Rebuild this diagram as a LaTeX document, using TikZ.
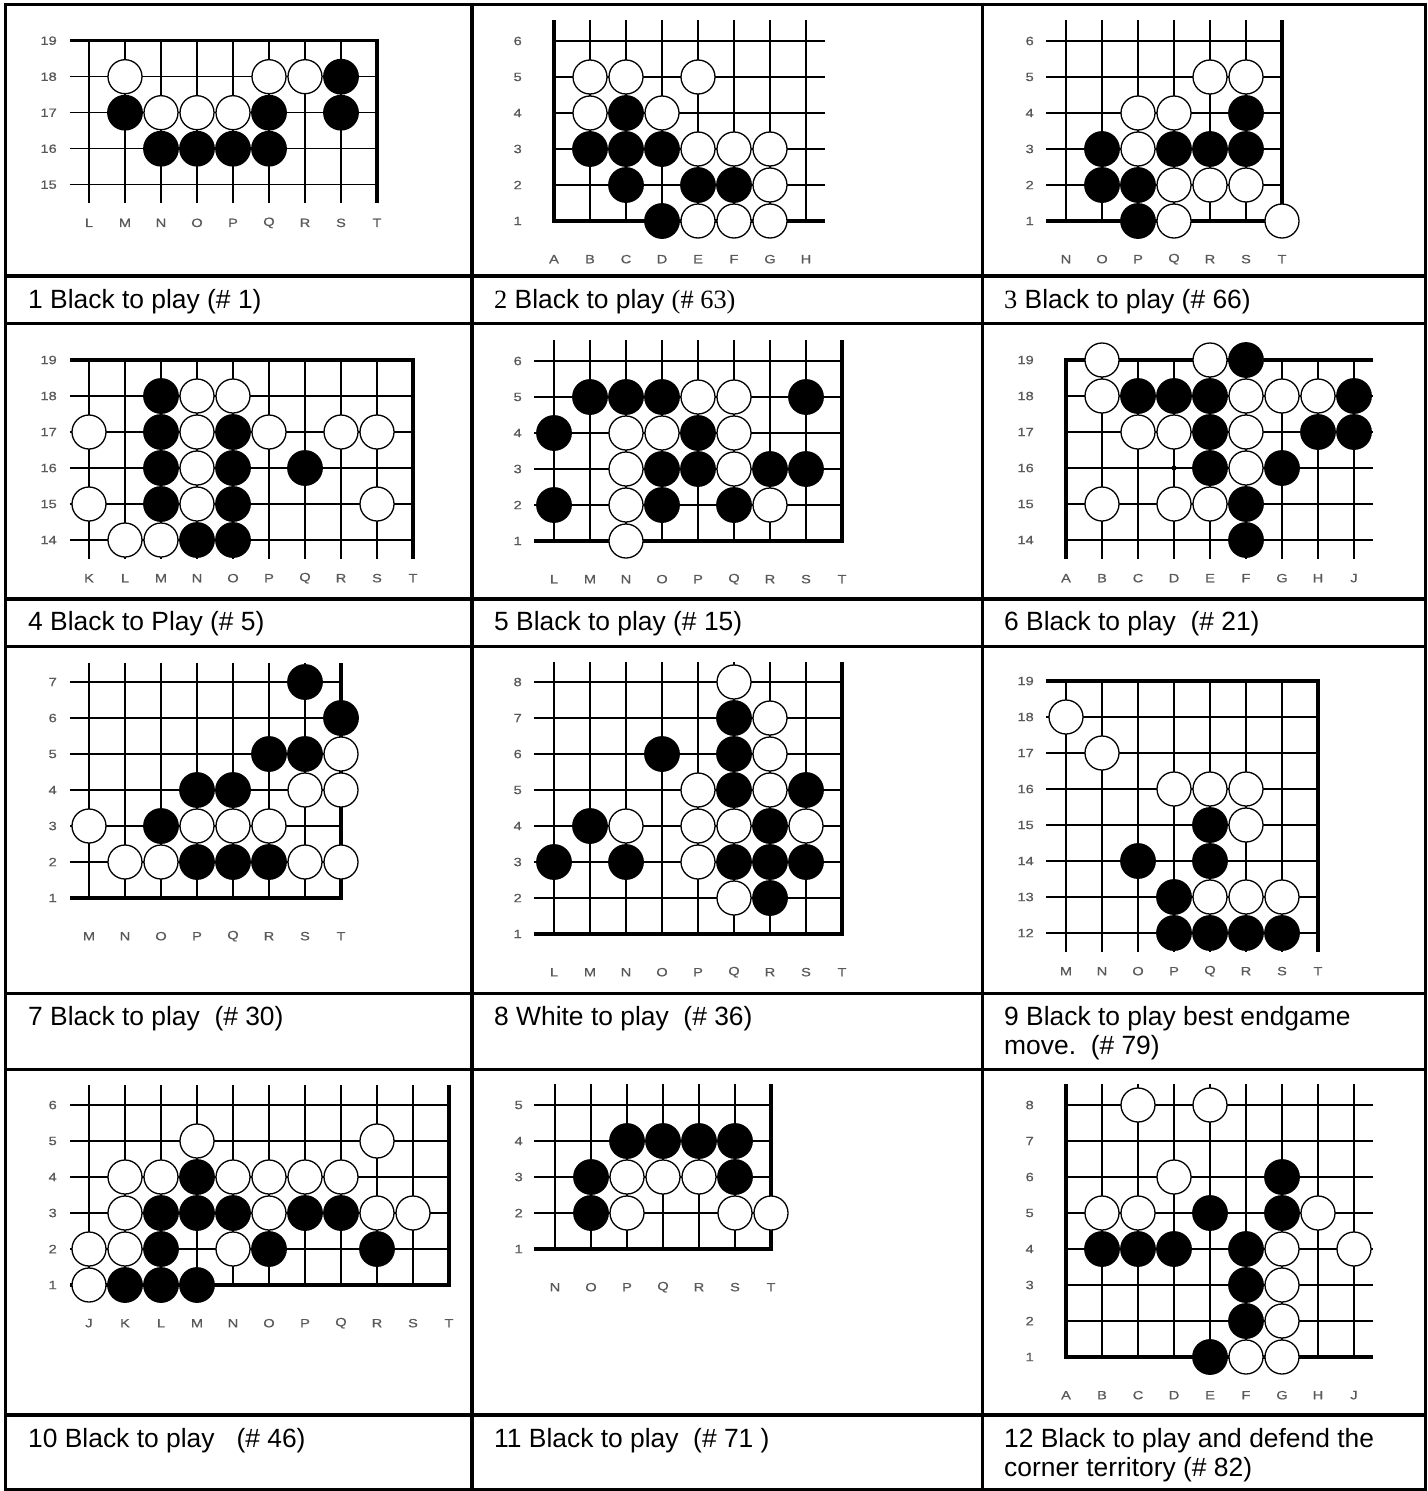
\documentclass[tikz,border=0pt]{standalone}
\usepackage{fontspec}
\newfontfamily\capfont{Liberation Sans}
\newfontfamily\capserif{Liberation Serif}
\newfontfamily\labfont[FakeStretch=1.22, FakeBold=0.8]{Liberation Sans}

\tikzset{
  gridline/.style={line width=1.3pt, black},
  edgeline/.style={line width=3.2pt, black},
  tableline/.style={line width=3.2pt, black},
  wstone/.style={circle, draw=black, fill=white, line width=1.3pt, minimum size=34pt, inner sep=0pt},
  bstone/.style={circle, draw=black, fill=black, line width=1.3pt, minimum size=34.5pt, inner sep=0pt},
  rowlabel/.style={anchor=east, inner sep=0pt, text=black!65, font=\labfont\fontsize{12}{13}\selectfont},
  collabel/.style={inner sep=0pt, text=black!65, font=\labfont\fontsize{12}{13}\selectfont},
  caption/.style={anchor=base west, inner sep=0pt, font=\capfont\fontsize{26.4}{30}\selectfont},
  board/.style={x=36pt, y=-36pt},
}

% grid lines: #1 last column, #2 last row, #3/#4 x span, #5/#6 y span
\newcommand{\gridlines}[6]{%
  \foreach \r in {0,...,#2} \draw[gridline] (#3,\r) -- (#4,\r);
  \foreach \c in {0,...,#1} \draw[gridline] (\c,#5) -- (\c,#6);
}

% labels and named points: #1 board, #2 column letters, #3 top row number, #4 last row
\newcommand{\golabels}[4]{%
  \foreach \col [count=\i from 0] in {#2} {
    \node[collabel] at (\i,#4+1.06) {\col};
    \foreach \r in {0,...,#4} {
      \pgfmathtruncatemacro\num{#3-\r}
      \coordinate (#1-\col-\num) at (\i,\r);
    }
  }
  \foreach \r in {0,...,#4} {
    \pgfmathtruncatemacro\num{#3-\r}
    \node[rowlabel] at (-0.89,\r) {\num};
  }
}

\newcommand{\stones}[3]{\foreach \p in {#3} \node[#2] at (#1-\p) {};}

\begin{document}
\begin{tikzpicture}[x=1pt, y=-1pt]
\useasboundingbox (0,0) rectangle (1427,1491);

% table
\draw[tableline] (5.5,4.5) rectangle (1425.5,1489.8);
\foreach \y in {276,323.5,599,646.5,993.5,1069.5,1415}
  \draw[tableline] (5.5,\y) -- (1425.5,\y);
\foreach \x in {472,982.3}
  \draw[tableline] (\x,4.5) -- (\x,1489.8);

% board 1
\begin{scope}[shift={(89,40.7)}, board]
  \gridlines{8}{4}{-0.53}{8}{0}{4.52}
  \draw[edgeline] (-0.53,0) -- (8,0) -- (8,4.52);
  \golabels{b1}{L,M,N,O,P,Q,R,S,T}{19}{4}
\end{scope}
\stones{b1}{wstone}{M-18,Q-18,R-18,N-17,O-17,P-17}
\stones{b1}{bstone}{S-18,S-17,M-17,Q-17,N-16,O-16,P-16,Q-16}

% board 2
\begin{scope}[shift={(554,41)}, board]
  \gridlines{7}{5}{0}{7.53}{-0.57}{5}
  \draw[edgeline] (0,-0.57) -- (0,5) -- (7.53,5);
  \golabels{b2}{A,B,C,D,E,F,G,H}{6}{5}
\end{scope}
\stones{b2}{wstone}{B-5,C-5,E-5,B-4,D-4,E-3,F-3,G-3,G-2,E-1,F-1,G-1}
\stones{b2}{bstone}{C-4,B-3,C-3,D-3,C-2,E-2,F-2,D-1}

% board 3
\begin{scope}[shift={(1066,41)}, board]
  \gridlines{6}{5}{-0.55}{6}{-0.57}{5}
  \draw[edgeline] (6,-0.57) -- (6,5) -- (-0.55,5);
  \golabels{b3}{N,O,P,Q,R,S,T}{6}{5}
\end{scope}
\stones{b3}{wstone}{R-5,S-5,P-4,Q-4,P-3,Q-2,R-2,S-2,Q-1,T-1}
\stones{b3}{bstone}{S-4,O-3,Q-3,R-3,S-3,O-2,P-2,P-1}

% board 4
\begin{scope}[shift={(89,360)}, board]
  \gridlines{9}{5}{-0.53}{9}{0}{5.52}
  \draw[edgeline] (-0.53,0) -- (9,0) -- (9,5.52);
  \golabels{b4}{K,L,M,N,O,P,Q,R,S,T}{19}{5}
  \fill (0,2) circle (2.6pt);
\end{scope}
\stones{b4}{wstone}{N-18,O-18,K-17,N-17,P-17,R-17,S-17,N-16,K-15,N-15,S-15,L-14,M-14}
\stones{b4}{bstone}{M-18,M-17,O-17,M-16,O-16,Q-16,M-15,O-15,N-14,O-14}

% board 5
\begin{scope}[shift={(554,361)}, board]
  \gridlines{8}{5}{-0.55}{8}{-0.57}{5}
  \draw[edgeline] (8,-0.57) -- (8,5) -- (-0.55,5);
  \golabels{b5}{L,M,N,O,P,Q,R,S,T}{6}{5}
\end{scope}
\stones{b5}{wstone}{P-5,Q-5,N-4,O-4,Q-4,N-3,Q-3,N-2,R-2,N-1}
\stones{b5}{bstone}{M-5,N-5,O-5,S-5,L-4,P-4,O-3,P-3,R-3,S-3,L-2,O-2,Q-2}

% board 6
\begin{scope}[shift={(1066,360)}, board]
  \gridlines{8}{5}{0}{8.53}{0}{5.52}
  \draw[edgeline] (8.53,0) -- (0,0) -- (0,5.52);
  \golabels{b6}{A,B,C,D,E,F,G,H,J}{19}{5}
  \fill (3,3) circle (2.6pt);
\end{scope}
\stones{b6}{wstone}{B-19,E-19,B-18,F-18,G-18,H-18,C-17,D-17,F-17,F-16,B-15,D-15,E-15}
\stones{b6}{bstone}{F-19,C-18,D-18,E-18,J-18,E-17,H-17,J-17,E-16,G-16,F-15,F-14}

% board 7
\begin{scope}[shift={(89,682)}, board]
  \gridlines{7}{6}{-0.53}{7}{-0.53}{6}
  \draw[edgeline] (7,-0.53) -- (7,6) -- (-0.53,6);
  \golabels{b7}{M,N,O,P,Q,R,S,T}{7}{6}
\end{scope}
\stones{b7}{wstone}{T-5,S-4,T-4,M-3,P-3,Q-3,R-3,N-2,O-2,S-2,T-2}
\stones{b7}{bstone}{S-7,T-6,R-5,S-5,P-4,Q-4,O-3,P-2,Q-2,R-2}

% board 8
\begin{scope}[shift={(554,682)}, board]
  \gridlines{8}{7}{-0.55}{8}{-0.55}{7}
  \draw[edgeline] (8,-0.55) -- (8,7) -- (-0.55,7);
  \golabels{b8}{L,M,N,O,P,Q,R,S,T}{8}{7}
\end{scope}
\stones{b8}{wstone}{Q-8,R-7,R-6,P-5,R-5,N-4,P-4,Q-4,S-4,P-3,Q-2}
\stones{b8}{bstone}{Q-7,O-6,Q-6,Q-5,S-5,M-4,R-4,L-3,N-3,Q-3,R-3,S-3,R-2}

% board 9
\begin{scope}[shift={(1066,681)}, board]
  \gridlines{7}{7}{-0.55}{7}{0}{7.53}
  \draw[edgeline] (-0.55,0) -- (7,0) -- (7,7.53);
  \golabels{b9}{M,N,O,P,Q,R,S,T}{19}{7}
\end{scope}
\stones{b9}{wstone}{M-18,N-17,P-16,Q-16,R-16,R-15,Q-13,R-13,S-13}
\stones{b9}{bstone}{Q-15,O-14,Q-14,P-13,P-12,Q-12,R-12,S-12}

% board 10
\begin{scope}[shift={(89,1105)}, board]
  \gridlines{10}{5}{-0.53}{10}{-0.55}{5}
  \draw[edgeline] (10,-0.55) -- (10,5) -- (-0.53,5);
  \golabels{b10}{J,K,L,M,N,O,P,Q,R,S,T}{6}{5}
\end{scope}
\stones{b10}{wstone}{M-5,R-5,K-4,L-4,N-4,O-4,P-4,Q-4,K-3,O-3,R-3,S-3,J-2,K-2,N-2,J-1}
\stones{b10}{bstone}{M-4,L-3,M-3,N-3,P-3,Q-3,L-2,O-2,R-2,K-1,L-1,M-1}

% board 11
\begin{scope}[shift={(555,1105)}, board]
  \gridlines{6}{4}{-0.57}{6}{-0.57}{4}
  \draw[edgeline] (6,-0.57) -- (6,4) -- (-0.57,4);
  \golabels{b11}{N,O,P,Q,R,S,T}{5}{4}
\end{scope}
\stones{b11}{wstone}{P-3,Q-3,R-3,P-2,S-2,T-2}
\stones{b11}{bstone}{P-4,Q-4,R-4,S-4,O-3,S-3,O-2}

% board 12
\begin{scope}[shift={(1066,1105)}, board]
  \gridlines{8}{7}{0}{8.53}{-0.57}{7}
  \draw[edgeline] (0,-0.57) -- (0,7) -- (8.53,7);
  \golabels{b12}{A,B,C,D,E,F,G,H,J}{8}{7}
\end{scope}
\stones{b12}{wstone}{C-8,E-8,D-6,B-5,C-5,H-5,G-4,J-4,G-3,G-2,F-1,G-1}
\stones{b12}{bstone}{G-6,E-5,G-5,B-4,C-4,D-4,F-4,F-3,F-2,E-1}

% captions
\node[caption] (cap1) at (28,308) {1 Black to play (\# 1)};
\node[caption] (cap2) at (494,308) {{\capserif 2} Black to play {\capserif (\# 63)}};
\node[caption] (cap3) at (1004,308) {{\capserif 3} Black to play (\# 66)};
\node[caption] (cap4) at (28,630) {4 Black to Play (\# 5)};
\node[caption] (cap5) at (494,630) {5 Black to play (\# 15)};
\node[caption] (cap6) at (1004,630) {6 Black to play\ \ (\# 21)};
\node[caption] (cap7) at (28,1025) {7 Black to play\ \ (\# 30)};
\node[caption] (cap8) at (494,1025) {8 White to play\ \ (\# 36)};
\node[caption] (cap9) at (1004,1025) {9 Black to play best endgame};
\node[caption] (cap9b) at (1004,1054) {move.\ \ (\# 79)};
\node[caption] (cap10) at (28,1447) {10 Black to play\ \ \ (\# 46)};
\node[caption] (cap11) at (494,1447) {11 Black to play\ \ (\# 71 )};
\node[caption] (cap12) at (1004,1447) {12 Black to play and defend the};
\node[caption] (cap12b) at (1004,1476) {corner territory (\# 82)};
\end{tikzpicture}
\end{document}
